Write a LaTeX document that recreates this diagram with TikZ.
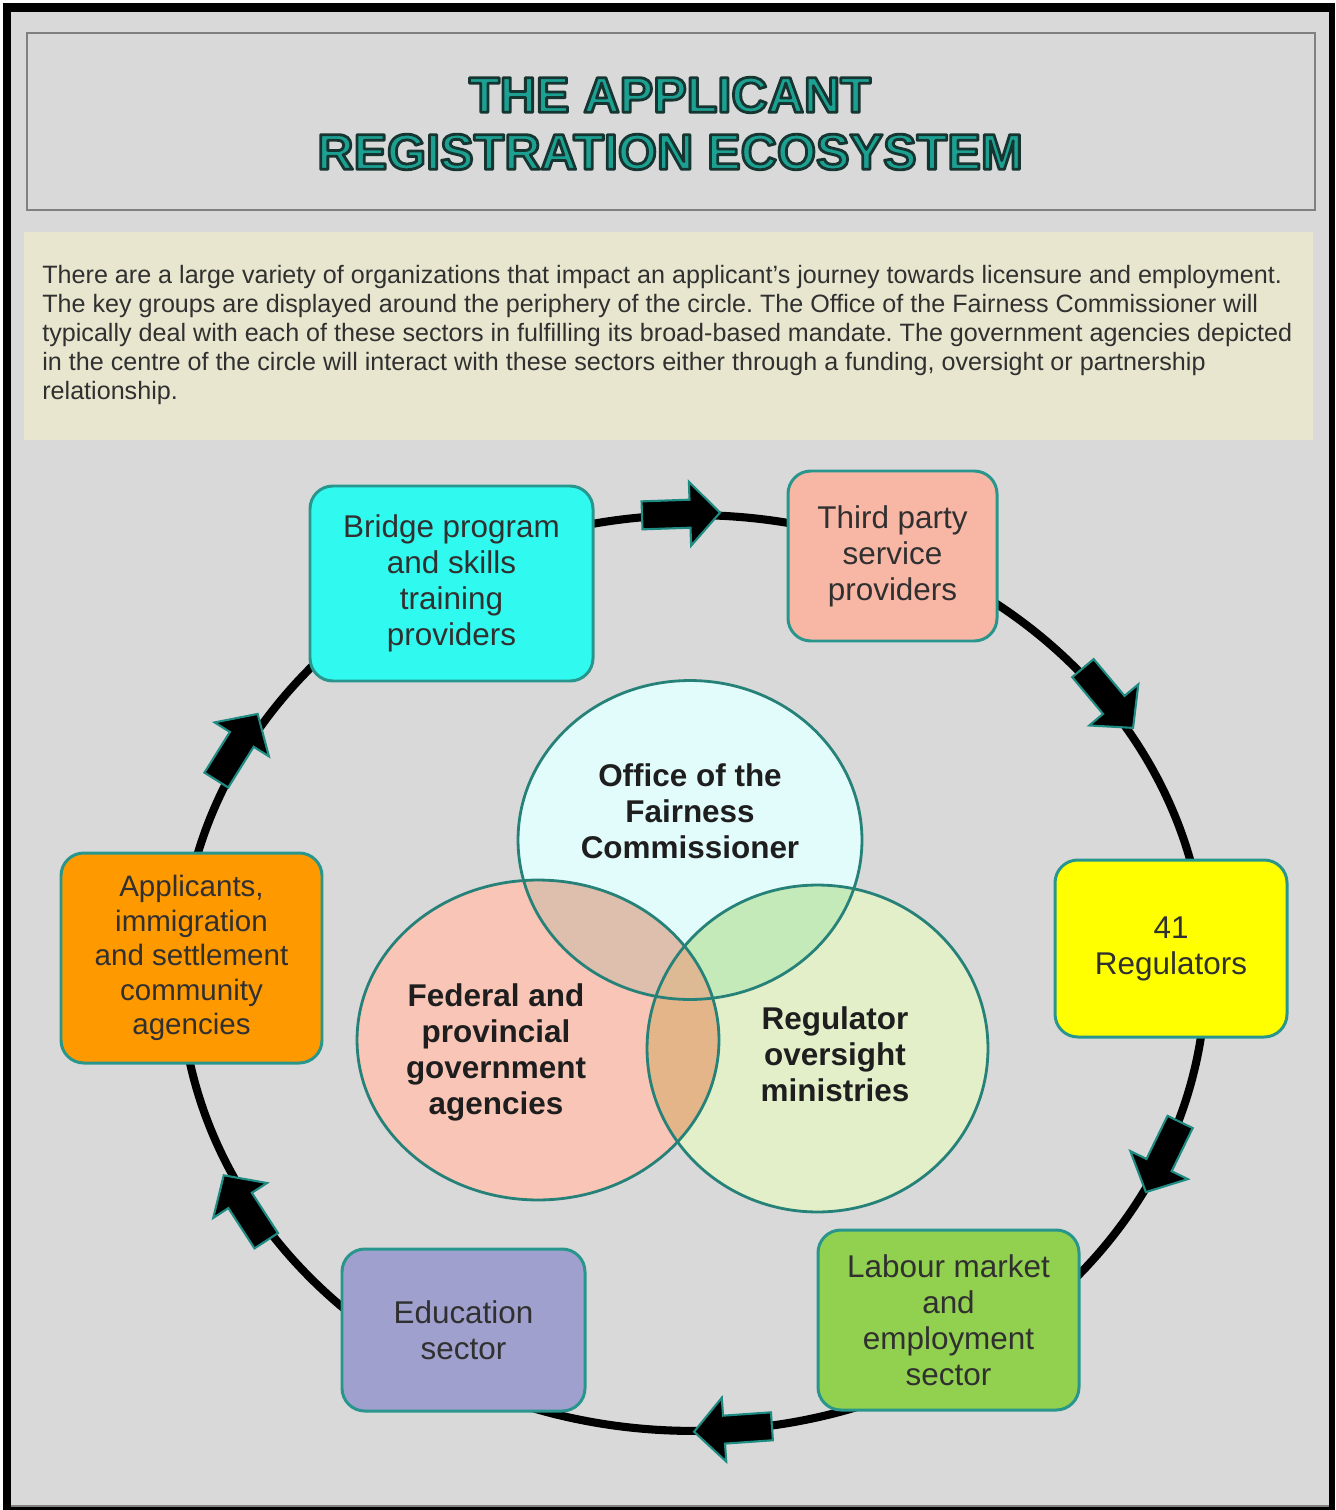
\documentclass[tikz,border=0pt]{standalone}
\usepackage{fontspec}
\setmainfont{Liberation Sans}
\usetikzlibrary{calc}

% palette
\definecolor{panel}{RGB}{217,217,217}
\definecolor{note}{RGB}{232,230,206}
\definecolor{frameline}{RGB}{128,128,128}
\definecolor{edge}{RGB}{40,150,140}
\definecolor{arrowedge}{RGB}{30,140,130}
\definecolor{titlefill}{RGB}{28,160,146}
\definecolor{txt}{RGB}{48,48,48}
\definecolor{boldtxt}{RGB}{30,30,30}
\definecolor{cyanbox}{RGB}{48,250,240}
\definecolor{salmonbox}{RGB}{248,182,165}
\definecolor{yellowbox}{RGB}{255,255,0}
\definecolor{greenbox}{RGB}{146,208,80}
\definecolor{purplebox}{RGB}{160,160,206}
\definecolor{orangebox}{RGB}{255,153,0}
\definecolor{ctop}{RGB}{226,251,251}
\definecolor{cleft}{RGB}{249,197,182}
\definecolor{cright}{RGB}{226,239,201}
\definecolor{ctl}{RGB}{222,190,172}
\definecolor{ctr}{RGB}{197,234,186}
\definecolor{clr}{RGB}{227,181,137}
\definecolor{call}{RGB}{222,186,148}
\definecolor{vennedge}{RGB}{38,130,120}

% outlined lettering for the heading: fill, then stroke in a dark teal
\newcommand\outlinetext[1]{%
  \special{pdf:literal direct 0.086 0.204 0.188 RG 2 Tr 1.6 w 1 j}%
  #1%
  \special{pdf:literal direct 0 Tr 0 j}}

\tikzset{
  heading/.style={inner sep=0pt, text=titlefill,
    font=\bfseries\fontsize{28.6}{34}\selectfont},
  sector/.style={draw=edge, line width=1.7pt, rounded corners=13pt,
    align=center, text=txt, inner sep=0pt,
    font=\fontsize{17.9}{20.5}\selectfont},
  boxsize/.style 2 args={minimum width=#1*0.02cm, minimum height=#2*0.02cm},
  venntext/.style={align=center, text=boldtxt, inner sep=0pt,
    font=\bfseries\fontsize{17.9}{20.5}\selectfont},
  ring/.style={line width=4.6pt, black},
  vennline/.style={draw=vennedge, line width=1.6pt},
  flowarrow/.pic={
    \draw[fill=black, draw=arrowedge, line width=1.2pt, line join=miter]
      (-39,-14) -- (9,-14) -- (9,-32) -- (39,0) -- (9,32) -- (9,14)
      -- (-39,14) -- cycle;
  },
}

\begin{document}
\begin{tikzpicture}[x=0.02cm, y=-0.02cm]
  \useasboundingbox (0,0) rectangle (1335,1510);

  % page frame
  \fill[white] (0,0) rectangle (1335,1510);
  \fill[black] (3,3) rectangle (1335,1510);
  \fill[panel] (11,12) rectangle (1329,1506);
  \draw[frameline, line width=0.6pt] (11,1506) -- (1329,1506);

  % heading panel
  \draw[frameline, line width=1.1pt] (27,33) rectangle (1315,210);
  \node[heading] (title1) at (670,95) {\outlinetext{THE APPLICANT}};
  \node[heading] (title2) at (670,152) {\outlinetext{REGISTRATION ECOSYSTEM}};

  % explanatory note
  \fill[note] (24,232) rectangle (1313,440);
  \node[anchor=north west, inner sep=0pt, align=left, text=txt,
        font=\frenchspacing\fontsize{14.3}{16.5}\selectfont] (desc) at (42,265)
  {There are a large variety of organizations that impact an applicant's journey towards licensure and employment.\\
   The key groups are displayed around the periphery of the circle. The Office of the Fairness Commissioner will\\
   typically deal with each of these sectors in fulfilling its broad-based mandate. The government agencies depicted\\
   in the centre of the circle will interact with these sectors either through a funding, oversight or partnership\\
   relationship.};

  % outer cycle
  \draw[ring] (693,973) ellipse [x radius=10.26cm, y radius=9.16cm];

  % direction arrows on the cycle
  \pic[rotate=2]    at (681,514)  {flowarrow};
  \pic[rotate=-50]  at (1108,698) {flowarrow};
  \pic[rotate=-116] at (1163,1157) {flowarrow};
  \pic[rotate=184]  at (733,1429) {flowarrow};
  \pic[rotate=123]  at (245,1208) {flowarrow};
  \pic[rotate=58]   at (237,747)  {flowarrow};

  % sectors around the cycle
  \node[sector, fill=cyanbox, boxsize={283}{195}] (bridge) at (451.5,583.5)
    {Bridge program\\and skills\\training\\providers};
  \node[sector, fill=salmonbox, boxsize={209}{170}] (third) at (892.5,556)
    {Third party\\service\\providers};
  \node[sector, fill=yellowbox, boxsize={232}{177}] (regs) at (1171,948.5)
    {41\\Regulators};
  \node[sector, fill=greenbox, boxsize={261}{180}] (labour) at (948.5,1320)
    {Labour market\\and\\employment\\sector};
  \node[sector, fill=purplebox, boxsize={243}{162}] (educ) at (463.5,1330)
    {Education\\sector};
  \node[sector, fill=orangebox, boxsize={261}{210}, font=\fontsize{16.8}{19.6}\selectfont]
    (appl) at (191.5,958)
    {Applicants,\\immigration\\and settlement\\community\\agencies};

  % government circles
  \fill[ctop]   (690,840)    ellipse [x radius=3.44cm, y radius=3.19cm];
  \fill[cleft]  (538,1040)   ellipse [x radius=3.62cm, y radius=3.2cm];
  \fill[cright] (817.5,1048.5) ellipse [x radius=3.41cm, y radius=3.27cm];
  \begin{scope}
    \clip (690,840) ellipse [x radius=3.44cm, y radius=3.19cm];
    \fill[ctl] (538,1040) ellipse [x radius=3.62cm, y radius=3.2cm];
    \fill[ctr] (817.5,1048.5) ellipse [x radius=3.41cm, y radius=3.27cm];
  \end{scope}
  \begin{scope}
    \clip (538,1040) ellipse [x radius=3.62cm, y radius=3.2cm];
    \fill[clr] (817.5,1048.5) ellipse [x radius=3.41cm, y radius=3.27cm];
  \end{scope}
  \begin{scope}
    \clip (690,840) ellipse [x radius=3.44cm, y radius=3.19cm];
    \clip (538,1040) ellipse [x radius=3.62cm, y radius=3.2cm];
    \fill[call] (817.5,1048.5) ellipse [x radius=3.41cm, y radius=3.27cm];
  \end{scope}
  \draw[vennline] (690,840)    ellipse [x radius=3.44cm, y radius=3.19cm];
  \draw[vennline] (538,1040)   ellipse [x radius=3.62cm, y radius=3.2cm];
  \draw[vennline] (817.5,1048.5) ellipse [x radius=3.41cm, y radius=3.27cm];

  \node[venntext] (ofc) at (690,811) {Office of the\\Fairness\\Commissioner};
  \node[venntext] (gov) at (496,1052) {Federal and\\provincial\\government\\agencies};
  \node[venntext] (min) at (835,1054) {Regulator\\oversight\\ministries};
\end{tikzpicture}
\end{document}
